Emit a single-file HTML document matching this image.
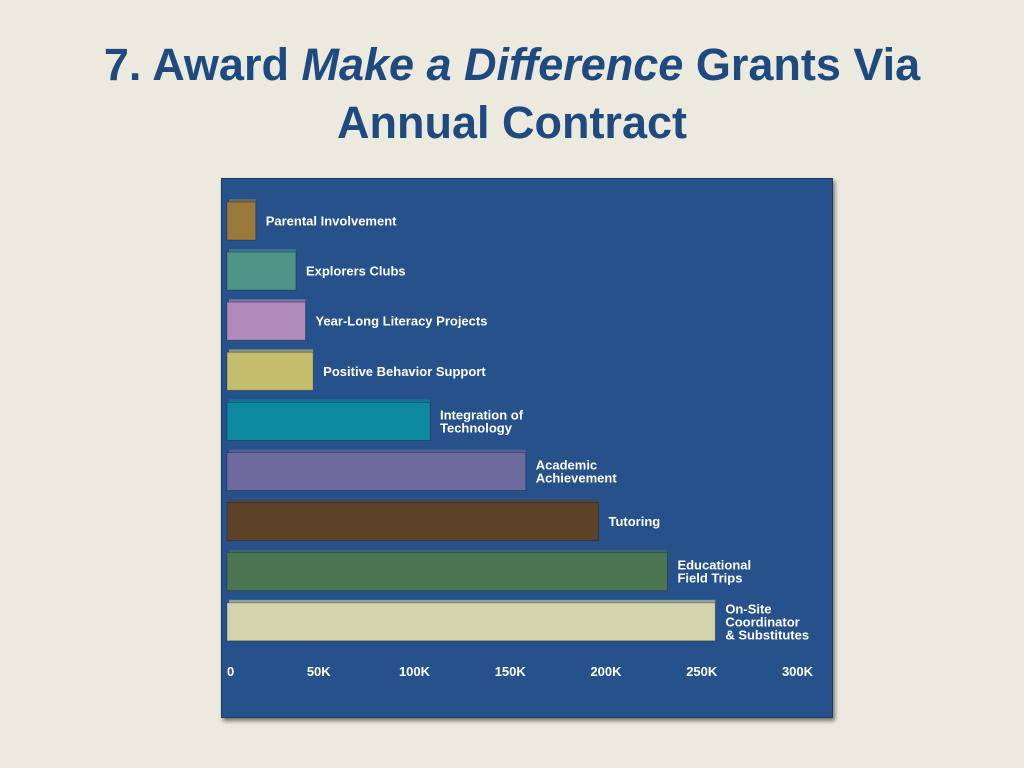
<!DOCTYPE html>
<html><head><meta charset="utf-8"><style>
body{margin:0;width:1024px;height:768px;background:#ece9de;overflow:hidden;font-family:"Liberation Sans",sans-serif}
#title{position:absolute;left:0;top:36px;width:1024px;text-align:center;color:#1f4a7f;font-weight:bold;font-size:45px;line-height:58px}
#panel{position:absolute;left:221px;top:178px;width:612px;height:540px;background:#27518a;box-shadow:2px 3px 4px rgba(0,0,0,.5);border:1px solid #1a3a66;box-sizing:border-box}
</style></head><body>
<div id="title">7. Award <i>Make a Difference</i> Grants Via<br>Annual Contract</div>
<div id="panel"></div>
<svg id="chart" width="1024" height="768" style="position:absolute;left:0;top:0"></svg>
<script>
const categories=[["Parental Involvement"],["Explorers Clubs"],["Year-Long Literacy Projects"],["Positive Behavior Support"],["Integration of","Technology"],["Academic","Achievement"],["Tutoring"],["Educational","Field Trips"],["On-Site","Coordinator","& Substitutes"]];
const values=[15000,36000,41000,45000,106000,156000,194000,230000,255000];
const colors=["#9a7a3c","#4e9488","#b08ab8","#c4bd6c","#0e8aa0","#6f6a9e","#5e4228","#4b7651","#d3d4ac"];
const ticks=[0,50000,100000,150000,200000,250000,300000];
const tickLabels=["0","50K","100K","150K","200K","250K","300K"];
const NS="http://www.w3.org/2000/svg";
const svg=document.getElementById('chart');
const x=v=>227+v*0.001915;
const y=i=>202+i*50.1;
const bh=38;
function mk(t,a){const e=document.createElementNS(NS,t);for(const k in a)e.setAttribute(k,a[k]);svg.appendChild(e);return e;}
values.forEach((v,i)=>{
  const top=mk('rect',{x:x(0)+2,y:y(i)-3,width:x(v)-x(0)-2,height:4,fill:colors[i],opacity:0.6});
  
  
  const r=mk('rect',{x:x(0),y:y(i),width:x(v)-x(0),height:bh,fill:colors[i],stroke:'rgba(0,0,0,0.25)','stroke-width':1});
  
  
  const lines=categories[i];
  const cy=y(i)+bh/2;
  const t=mk('text',{x:x(v)+10,y:cy-(lines.length-1)*6.5+4.5,fill:'#fff','font-size':13,'font-weight':'bold','font-family':'Liberation Sans, sans-serif'});
  
  
  lines.forEach((l,j)=>{const s=document.createElementNS(NS,'tspan');s.setAttribute('x',x(v)+10);if(j)s.setAttribute('dy',13);s.textContent=l;t.appendChild(s);});
});
ticks.forEach((v,i)=>{
  const t=mk('text',{x:x(v)+(i==0?0:-4),y:676,fill:'#fff','font-size':13,'font-weight':'bold','text-anchor':i==0?'start':'middle','font-family':'Liberation Sans, sans-serif'});
  
  
  t.textContent=tickLabels[i];
});
</script>
</body></html>
